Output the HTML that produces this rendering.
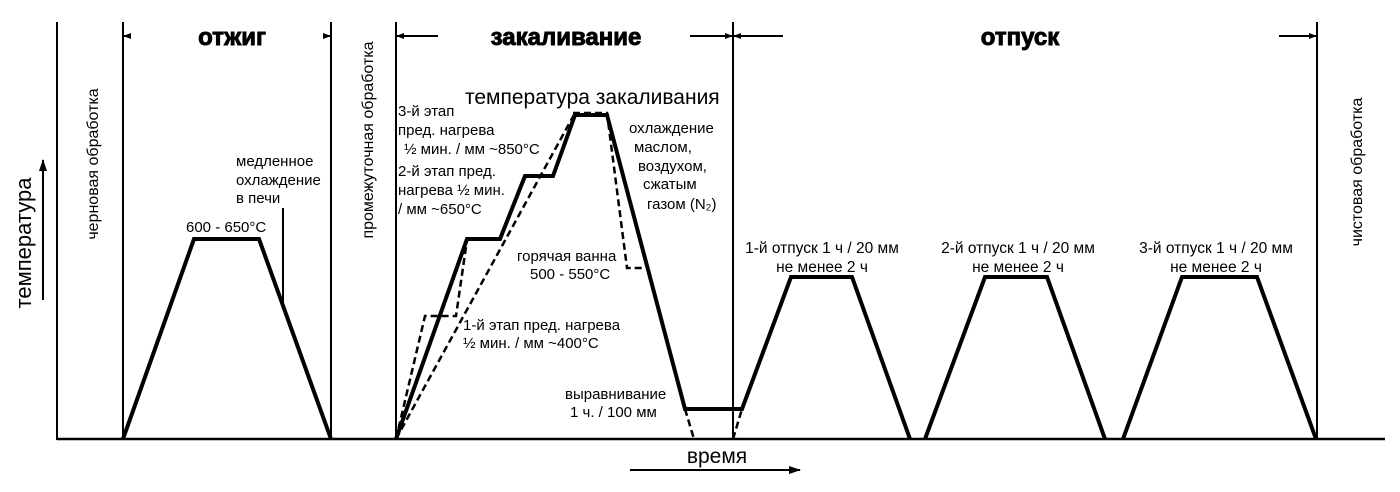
<!DOCTYPE html>
<html><head><meta charset="utf-8"><style>
body{margin:0;background:#fff}
svg{display:block}
text{font-family:"Liberation Sans","DejaVu Sans",sans-serif;fill:#000}
</style></head><body>
<svg width="1400" height="492" viewBox="0 0 1400 492" xmlns="http://www.w3.org/2000/svg">
<defs>
<marker id="a" markerWidth="8" markerHeight="8" refX="7" refY="4" orient="auto" markerUnits="userSpaceOnUse"><path d="M0,1 L8,4 L0,7 z" fill="#000"/></marker>
<marker id="b" markerWidth="12" markerHeight="10" refX="11" refY="5" orient="auto" markerUnits="userSpaceOnUse"><path d="M0,1 L12,5 L0,9 z" fill="#000"/></marker>
</defs>
<g stroke="#000" stroke-width="2" fill="none">
<line x1="57" y1="22" x2="57" y2="440"/>
<line x1="123" y1="22" x2="123" y2="440"/>
<line x1="331" y1="22" x2="331" y2="440"/>
<line x1="396" y1="22" x2="396" y2="440"/>
<line x1="733" y1="22" x2="733" y2="440"/>
<line x1="1317" y1="22" x2="1317" y2="440"/>
<line x1="57" y1="439" x2="1385" y2="439" stroke-width="2.5"/>
<line x1="131" y1="36" x2="124" y2="36" marker-end="url(#a)"/>
<line x1="323" y1="36" x2="330" y2="36" marker-end="url(#a)"/>
<line x1="438" y1="36" x2="397" y2="36" marker-end="url(#a)"/>
<line x1="690" y1="36" x2="732" y2="36" marker-end="url(#a)"/>
<line x1="783" y1="36" x2="734" y2="36" marker-end="url(#a)"/>
<line x1="1279" y1="36" x2="1316" y2="36" marker-end="url(#a)"/>
<line x1="43" y1="300" x2="43" y2="160" marker-end="url(#b)"/>
<line x1="630" y1="470" x2="800" y2="470" marker-end="url(#b)"/>
</g>
<g stroke="#000" stroke-width="4" fill="none" stroke-linejoin="miter">
<polyline points="123,439 194,239 259,239 331,439"/>
<polyline points="396,439 467,239 500,239 525,176 553,176 575,115 607,115 685,409 742,409 791,277 852,277 910,439"/>
<polyline points="925,439 985,277 1047,277 1105,439"/>
<polyline points="1123,439 1182,277 1257,277 1316,439"/>
</g>
<line x1="283" y1="208" x2="283" y2="305" stroke="#000" stroke-width="2"/>
<g stroke="#000" stroke-width="2.5" fill="none" stroke-dasharray="7,4">
<polyline points="396,439 425,316 456,316 467,240"/>
<line x1="396" y1="439" x2="575" y2="113"/>
<polyline points="573,113 607,113 627,268 643,268"/>
<line x1="685" y1="409" x2="694" y2="439"/>
<line x1="733" y1="439" x2="742" y2="409"/>
</g>
<g font-size="24" font-weight="bold" text-anchor="middle" stroke="#000" stroke-width="0.9">
<text x="232" y="45">отжиг</text>
<text x="566" y="45">закаливание</text>
<text x="1020" y="45">отпуск</text>
</g>
<text x="31" y="243" font-size="22" text-anchor="middle" transform="rotate(-90 31 243)">температура</text>
<text x="717" y="463" font-size="21" text-anchor="middle">время</text>
<g font-size="16" text-anchor="middle">
<text transform="translate(98,164) rotate(-90)">черновая обработка</text>
<text transform="translate(373,140) rotate(-90)">промежуточная обработка</text>
<text transform="translate(1362,172) rotate(-90)">чистовая обработка</text>
</g>
<g font-size="15">
<text x="236" y="166">медленное</text>
<text x="236" y="185">охлаждение</text>
<text x="236" y="203">в печи</text>
<text x="186" y="232">600 - 650°C</text>
<text x="465" y="104" font-size="21">температура закаливания</text>
<text x="398" y="116">3-й этап</text>
<text x="398" y="135">пред. нагрева</text>
<text x="404" y="154">½ мин. / мм ~850°C</text>
<text x="398" y="176">2-й этап пред.</text>
<text x="398" y="195">нагрева ½ мин.</text>
<text x="398" y="214">/ мм ~650°C</text>
<text x="629" y="133">охлаждение</text>
<text x="634" y="152">маслом,</text>
<text x="638" y="171">воздухом,</text>
<text x="643" y="189">сжатым</text>
<text x="647" y="209">газом (N₂)</text>
<text x="517" y="261">горячая ванна</text>
<text x="530" y="279">500 - 550°C</text>
<text x="463" y="330">1-й этап пред. нагрева</text>
<text x="463" y="348">½ мин. / мм ~400°C</text>
<text x="565" y="399">выравнивание</text>
<text x="570" y="417">1 ч. / 100 мм</text>
</g>
<g font-size="15.5" text-anchor="middle">
<text x="822" y="253">1-й отпуск 1 ч / 20 мм</text>
<text x="822" y="272">не менее 2 ч</text>
<text x="1018" y="253">2-й отпуск 1 ч / 20 мм</text>
<text x="1018" y="272">не менее 2 ч</text>
<text x="1216" y="253">3-й отпуск 1 ч / 20 мм</text>
<text x="1216" y="272">не менее 2 ч</text>
</g>
</svg>
</body></html>
